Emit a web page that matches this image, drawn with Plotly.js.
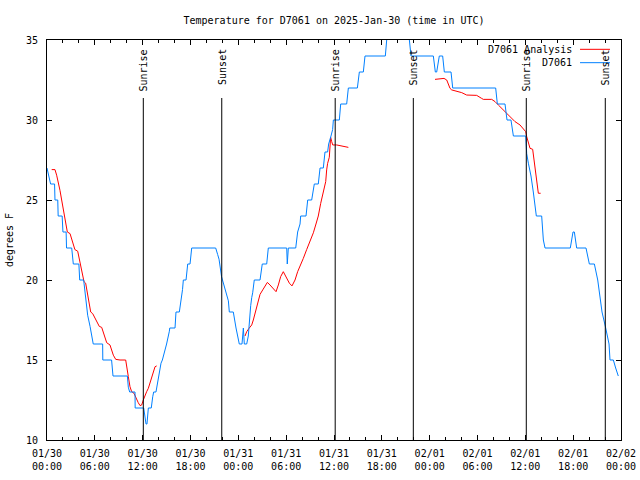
<!DOCTYPE html>
<html>
<head>
<meta charset="utf-8">
<script src="https://cdn.plot.ly/plotly-3.0.1.min.js"></script>
<style>html,body{margin:0;padding:0;background:#fff;}#chart{width:640px;height:480px;}</style>
</head>
<body>
<div id="chart"></div>
<script>
// Hours since 2025-01-30 00:00 UTC
const obsHours = [0.00,0.20,0.45,0.95,1.00,1.35,1.40,1.90,2.00,2.40,2.45,3.10,3.30,4.00,4.10,4.60,4.77,5.10,5.40,5.70,5.80,6.98,7.00,8.10,8.28,10.08,10.20,10.37,11.04,11.06,12.13,12.42,12.54,12.71,13.08,13.26,13.38,13.67,13.97,14.30,14.47,14.80,15.00,15.35,15.40,16.06,16.18,16.60,16.77,17.00,17.10,17.44,17.65,17.94,18.15,21.16,21.40,21.58,21.90,22.24,22.54,22.75,22.87,23.37,23.71,24.00,24.12,24.46,24.63,24.75,25.05,25.25,25.38,25.55,25.68,25.80,26.00,26.72,27.00,27.56,27.76,30.07,30.14,30.27,31.20,31.32,31.44,31.74,31.82,32.49,32.70,33.20,33.53,34.03,34.25,34.66,34.87,35.20,35.33,35.62,35.83,35.92,36.67,36.84,37.59,37.80,38.93,39.18,39.68,39.89,42.44,42.61,42.80,45.25,45.41,45.66,48.46,48.71,48.88,49.21,49.63,49.84,50.68,50.89,56.28,56.49,57.45,57.70,58.20,58.50,60.05,60.17,60.38,60.71,61.00,61.13,61.38,62.05,62.26,62.47,65.64,65.98,66.15,66.44,67.61,68.03,68.66,69.08,69.37,69.62,70.08,70.50,70.62,71.04,71.33,71.58,71.66];
const obsTemp = [27.0,26.6,26.0,26.0,25.0,25.0,24.0,24.0,23.0,23.0,22.0,22.0,21.0,21.0,20.0,20.0,19.3,17.8,17.1,16.3,16.0,16.0,15.0,15.0,14.0,14.0,13.3,13.0,13.0,12.0,12.0,11.0,11.0,12.0,12.0,12.7,13.0,13.0,14.0,14.8,15.0,15.6,16.0,16.8,17.0,17.0,18.0,18.0,18.5,19.4,20.0,20.0,21.0,21.0,22.0,22.0,21.6,21.3,20.2,19.6,19.1,18.7,18.0,18.0,17.0,16.4,16.0,16.0,17.0,16.0,16.0,16.5,17.5,18.4,18.9,19.2,20.0,20.0,21.0,21.0,22.0,22.0,21.0,22.0,22.0,22.5,23.0,23.5,24.0,24.0,25.0,25.0,26.0,26.0,27.0,27.0,28.0,28.0,28.5,29.0,29.4,30.0,30.0,31.0,31.0,32.0,32.0,33.0,33.0,34.0,34.0,35.0,36.0,36.0,35.0,34.0,34.0,33.0,33.0,34.0,34.0,33.0,33.0,32.0,32.0,31.0,31.0,30.0,30.0,29.0,29.0,27.9,27.3,26.5,25.5,25.0,24.0,24.0,22.5,22.0,22.0,23.0,23.0,22.0,22.0,21.0,21.0,20.0,19.0,18.0,17.0,16.0,15.0,15.0,14.5,14.0,14.0];

const anaHours = [0.59,1.00,1.21,1.42,1.63,1.84,2.05,2.30,2.55,2.89,3.10,3.30,3.50,3.85,4.05,4.22,4.43,4.64,4.85,5.06,5.27,5.48,5.73,6.02,6.31,6.56,6.86,7.06,7.28,7.49,7.90,8.12,8.32,8.62,9.16,9.87,10.08,10.20,10.41,10.62,10.91,11.16,11.45,11.67,11.88,12.08,12.29,12.50,12.71,12.92,13.13,13.34,13.55,13.76,
  19.0,
  24.84,25.05,25.34,25.68,25.88,26.09,26.30,26.51,26.72,27.06,27.35,27.64,27.97,28.31,28.73,29.02,29.31,29.64,29.98,30.40,30.73,31.11,31.44,31.74,32.15,32.57,32.99,33.41,33.74,34.03,34.33,34.58,34.79,34.96,35.08,35.20,35.41,35.50,35.58,35.71,35.84,36.34,36.96,37.59,37.80,
  43.0,
  48.67,49.30,49.80,50.14,50.34,50.55,50.76,51.39,52.02,52.64,53.90,54.52,54.73,55.78,56.20,56.61,57.03,57.66,58.29,58.70,59.33,59.75,60.05,60.17,60.38,60.59,60.92,61.09,61.21,61.42,61.63,61.92];
const anaTemp = [26.9,26.9,26.55,26.15,25.6,25.0,24.4,23.6,23.0,22.9,22.6,22.2,21.9,21.8,21.35,20.83,20.3,19.9,19.8,19.17,18.65,18.0,17.9,17.6,17.3,17.1,17.04,16.77,16.46,16.08,15.94,15.6,15.3,15.04,15.0,15.0,14.48,13.96,13.33,13.02,12.92,12.6,12.33,12.15,12.19,12.5,12.8,13.02,13.23,13.54,13.85,14.27,14.58,14.63,
  null,
  16.5,16.77,16.98,17.19,17.5,17.92,18.33,18.79,19.1,19.38,19.65,19.85,19.69,19.48,19.27,19.69,20.21,20.52,20.21,19.8,19.63,20.0,20.52,20.83,21.35,21.9,22.4,22.95,23.5,24.0,24.79,25.31,25.73,26.15,26.88,27.29,27.67,28.54,28.92,28.65,28.44,28.44,28.38,28.33,28.29,
  null,
  32.54,32.58,32.6,32.5,32.25,31.98,31.88,31.81,31.71,31.56,31.54,31.35,31.29,31.29,31.15,30.94,30.73,30.42,30.1,29.9,29.69,29.48,29.27,28.96,28.54,28.23,28.17,27.5,26.88,26.25,25.42,25.42];

const sunHours = [12.08, 21.92, 36.15, 45.95, 60.12, 70.03];
const sunLabels = ['Sunrise','Sunset','Sunrise','Sunset','Sunrise','Sunset'];

const xTickHours = [0,6,12,18,24,30,36,42,48,54,60,66,72];
const xTickLabels = ['01/30<br>00:00','01/30<br>06:00','01/30<br>12:00','01/30<br>18:00','01/31<br>00:00','01/31<br>06:00','01/31<br>12:00','01/31<br>18:00','02/01<br>00:00','02/01<br>06:00','02/01<br>12:00','02/01<br>18:00','02/02<br>00:00'];
const yTickVals = [10,15,20,25,30,35];

const seriesNames = ['D7061 Analysis', 'D7061'];
const seriesColors = ['#ff0000', '#0080ff'];

const FONT = {family: 'DejaVu Sans Mono, Liberation Mono, monospace', size: 10, color: '#000'};

const traces = [
  {x: anaHours, y: anaTemp, type: 'scatter', mode: 'lines', name: seriesNames[0],
   line: {color: seriesColors[0], width: 1}, connectgaps: false, showlegend: false},
  {x: obsHours, y: obsTemp, type: 'scatter', mode: 'lines', name: seriesNames[1],
   line: {color: seriesColors[1], width: 1}, showlegend: false}
];

// Sunrise / sunset markers
const shapes = sunHours.map(h => ({
  type: 'line', xref: 'x', yref: 'paper', x0: h, x1: h, y0: 0, y1: 0.855,
  line: {color: '#000', width: 1}
}));
const annotations = sunHours.map((h, i) => ({
  x: h, xref: 'x', y: 0.982, yref: 'paper', xanchor: 'center', yanchor: 'top',
  text: sunLabels[i], textangle: -90, showarrow: false, font: FONT
}));

// gnuplot-style key: text right-aligned, line sample to its right
const keyRowY = [0.9767, 0.9433];
seriesNames.forEach((name, i) => {
  annotations.push({x: 0.9181, xref: 'paper', y: keyRowY[i], yref: 'paper',
    xanchor: 'right', yanchor: 'middle', text: name, showarrow: false, font: FONT});
  shapes.push({type: 'line', xref: 'paper', yref: 'paper', x0: 0.9286, x1: 0.9808,
    y0: keyRowY[i], y1: keyRowY[i], line: {color: seriesColors[i], width: 1}});
});

const axisCommon = {
  showline: true, linecolor: '#000', linewidth: 1, mirror: 'ticks',
  ticks: 'inside', tickcolor: '#000', tickwidth: 1, ticklen: 5,
  showgrid: false, zeroline: false, tickfont: FONT
};

const layout = {
  width: 640, height: 480,
  margin: {l: 47, r: 19, t: 40, b: 40},
  paper_bgcolor: '#fff', plot_bgcolor: '#fff',
  font: FONT,
  title: {text: 'Temperature for D7061 on 2025-Jan-30 (time in UTC)', font: FONT,
          x: 0.5, xref: 'paper', xanchor: 'center', y: 0.958, yref: 'container', yanchor: 'middle'},
  xaxis: Object.assign({}, axisCommon, {
    range: [0, 72], tickmode: 'array', tickvals: xTickHours, ticktext: xTickLabels,
    ticklabelstandoff: 4,
    minor: {tickmode: 'linear', tick0: 0, dtick: 2, ticks: 'inside', ticklen: 3, tickcolor: '#000', showgrid: false}
  }),
  yaxis: Object.assign({}, axisCommon, {
    range: [10, 35], tickmode: 'array', tickvals: yTickVals,
    ticklabelstandoff: 6,
    title: {text: 'degrees F', font: FONT, standoff: 10}
  }),
  showlegend: false,
  shapes: shapes,
  annotations: annotations
};

Plotly.newPlot('chart', traces, layout, {staticPlot: true, displayModeBar: false});
</script>
</body>
</html>
